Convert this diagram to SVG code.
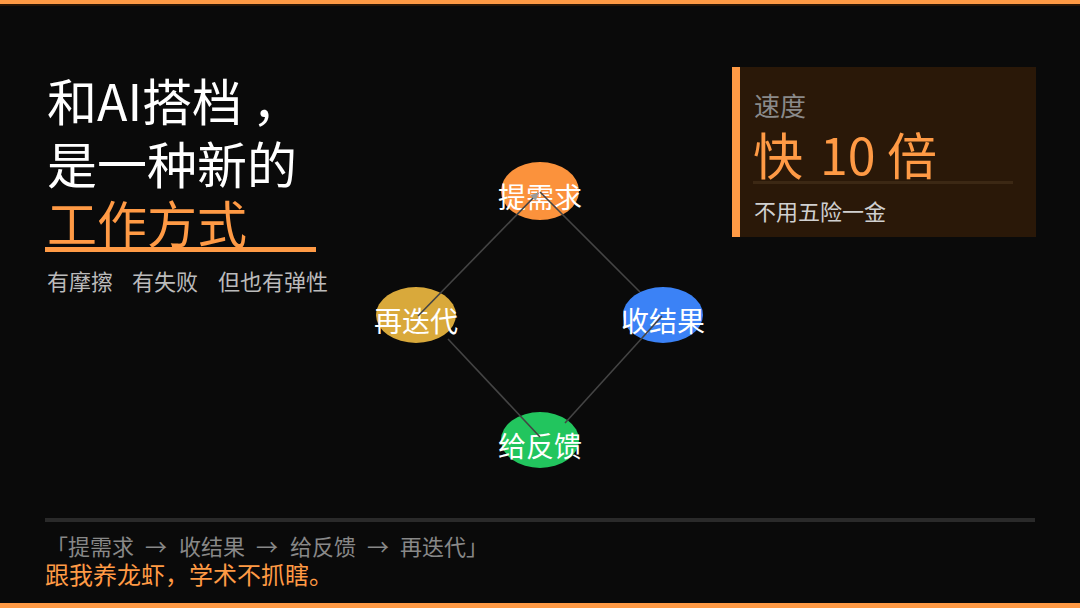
<svg xmlns="http://www.w3.org/2000/svg" width="1080" height="608" viewBox="0 0 1080 608">
<style>
.cjk{font-family:"Noto Sans CJK SC","Noto Sans",sans-serif}
.title{font-size:50px;fill:#ffffff}
.node-label{font-size:28px;fill:#ffffff;text-anchor:middle}
.edge{stroke:#444444;stroke-width:1.6;fill:none}
</style>
<defs>
<marker id="arrow" viewBox="0 0 10 10" refX="9" refY="5" markerWidth="5" markerHeight="5" orient="auto">
<path d="M0,0 L10,5 L0,10 z" fill="#9a9a9a"/>
</marker>
</defs>
<rect width="1080" height="608" fill="#0a0a0a"/>
<rect x="0" y="0" width="1080" height="4" fill="#ff9a45"/>
<rect x="0" y="4" width="1080" height="2" fill="#2a1606"/>
<rect x="0" y="603" width="1080" height="5" fill="#ff9a45"/>

<g id="title" class="cjk">
<text class="title" x="47" y="121">和AI搭档<tspan dx="10">，</tspan></text>
<text class="title" x="47" y="184">是一种新的</text>
<text class="title" x="47" y="243" style="fill:#ff9a45">工作方式</text>
<rect x="45" y="247" width="271" height="5" fill="#ff9a45"/>
<text x="47" y="290" font-size="22" fill="#bbbbbb"><tspan x="47">有摩擦</tspan><tspan x="132">有失败</tspan><tspan x="218">但也有弹性</tspan></text>
</g>

<g id="speed-card" class="cjk">
<rect x="732" y="67" width="304" height="170" fill="#2a1808"/>
<rect x="732" y="67" width="8" height="170" fill="#ff9a45"/>
<text x="754" y="116" font-size="26" fill="#8a8a8a">速度</text>
<text y="175" font-size="50" fill="#ff9a45"><tspan x="753">快</tspan><tspan x="820">10</tspan><tspan x="887">倍</tspan></text>
<rect x="753" y="181" width="260" height="3" fill="#3c2814"/>
<text x="754" y="220" font-size="22" fill="#d0d0d0">不用五险一金</text>
</g>

<g id="node-tixuqiu" class="cjk">
<ellipse cx="540" cy="191" rx="39" ry="29" fill="#fb923c"/>
<text class="node-label" x="540" y="208">提需求</text>
</g>
<g id="node-shoujieguo" class="cjk">
<ellipse cx="663" cy="315" rx="40" ry="28" fill="#3b82f6"/>
<text class="node-label" x="663" y="332">收结果</text>
</g>
<g id="node-geifankui" class="cjk">
<ellipse cx="540" cy="440" rx="39" ry="28" fill="#22c55e"/>
<text class="node-label" x="540" y="457">给反馈</text>
</g>
<g id="node-zaidiedai" class="cjk">
<ellipse cx="416" cy="315" rx="40" ry="28" fill="#d9a93b"/>
<text class="node-label" x="416" y="332">再迭代</text>
</g>

<g id="connectors">
<line class="edge" x1="540" y1="192" x2="640" y2="292"/>
<line class="edge" x1="662" y1="316" x2="565" y2="423"/>
<line class="edge" x1="448" y1="339" x2="540" y2="437"/>
<line class="edge" x1="418" y1="316" x2="538" y2="193" marker-end="url(#arrow)"/>
</g>

<g id="footer" class="cjk">
<rect x="45" y="518" width="990" height="4" fill="#2a2a2a"/>
<text y="555" font-size="22" fill="#888888"><tspan x="46">「提需求</tspan><tspan x="145">→</tspan><tspan x="179">收结果</tspan><tspan x="256">→</tspan><tspan x="290">给反馈</tspan><tspan x="367">→</tspan><tspan x="400">再迭代」</tspan></text>
<text x="45" y="584" font-size="24" fill="#ff9a45">跟我养龙虾，学术不抓瞎。</text>
</g>
</svg>
